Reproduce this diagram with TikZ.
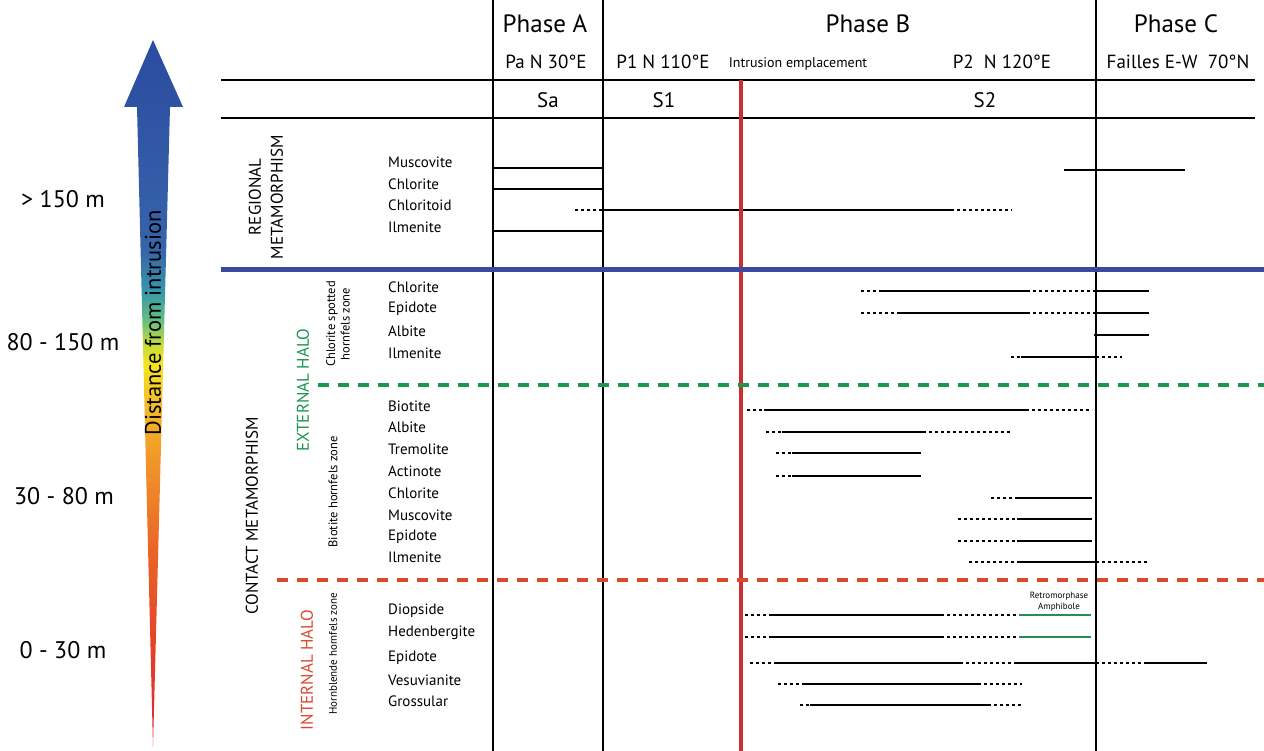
\documentclass[tikz,border=0pt]{standalone}
\usepackage{fontspec}
\setmainfont{PT Sans}
\usetikzlibrary{positioning}

\definecolor{halogreen}{RGB}{30,150,80}
\definecolor{halored}{RGB}{218,72,46}
\definecolor{intrred}{RGB}{204,45,45}
\definecolor{regblue}{RGB}{58,74,160}
\definecolor{retrogreen}{RGB}{40,140,90}

\pgfdeclareverticalshading{distshade}{100bp}{%
  rgb(0bp)=(0.855,0.149,0.188); rgb(25bp)=(0.855,0.149,0.188);
  rgb(31.9bp)=(0.894,0.255,0.165); rgb(38.9bp)=(0.918,0.392,0.157);
  rgb(45.3bp)=(0.941,0.588,0.157); rgb(49.5bp)=(0.961,0.745,0.157);
  rgb(52bp)=(0.961,0.894,0.118); rgb(53.4bp)=(0.784,0.863,0.216);
  rgb(55.2bp)=(0.392,0.745,0.51); rgb(57.3bp)=(0.216,0.588,0.667);
  rgb(60.1bp)=(0.216,0.392,0.667); rgb(75bp)=(0.169,0.294,0.627);
  rgb(100bp)=(0.169,0.294,0.627)}

\tikzset{
  frameline/.style={line width=2pt},
  mineral/.style={anchor=west, inner sep=0pt, font=\fontsize{15}{15}\selectfont},
  phasehead/.style={inner sep=0pt, font=\fontsize{25}{25}\selectfont},
  subhead/.style={inner sep=0pt, font=\fontsize{19}{19}\selectfont},
  fabric/.style={inner sep=0pt, font=\fontsize{21}{21}\selectfont},
  distlab/.style={inner sep=0pt, font=\fontsize{24}{24}\selectfont},
  bigzone/.style={rotate=90, align=center, inner sep=0pt, font=\fontsize{17}{22}\selectfont},
  smallzone/.style={rotate=90, align=center, inner sep=0pt, font=\fontsize{12.5}{14.5}\selectfont},
  solidbar/.style={line width=2.5pt},
  dotbar/.style={line width=2.5pt, dash pattern=on 3pt off 3pt},
  halo/.style={line width=4.5pt, dash pattern=on 11pt off 9pt}
}

\begin{document}
\begin{tikzpicture}[x=1pt, y=-1pt]
\useasboundingbox (0,0) rectangle (1264,751);

% distance arrow
\shade[shading=distshade] (153,40) -- (183,107) -- (170,107) -- (153,747)
  -- (137,107) -- (124,107) -- cycle;
\node[rotate=90, inner sep=0pt, font=\fontsize{22.5}{22.5}\selectfont] (distance) at (153,323) {Distance from intrusion};

\node[distlab] (d150) at (63,199) {> 150 m};
\node[distlab] (d80) at (63,342) {80 - 150 m};
\node[distlab] (d30) at (64,496) {30 - 80 m};
\node[distlab] (d0) at (63,650) {0 - 30 m};

% table frame
\draw[frameline] (221,80) -- (1255,80);
\draw[frameline] (221,118) -- (1255,118);
\foreach \x in {493,603,1096}
  \draw[frameline] (\x,0) -- (\x,751);

% headers
\node[phasehead] (phA) at (545,24) {Phase A};
\node[phasehead] (phB) at (868,24) {Phase B};
\node[phasehead] (phC) at (1176,24) {Phase C};
\node[subhead] (pa) at (546,62) {Pa N 30°E};
\node[subhead] (p1) at (663,62) {P1 N 110°E};
\node[inner sep=0pt, font=\fontsize{14}{14}\selectfont] (intr) at (798,64) {Intrusion emplacement};
\node[subhead] (p2) at (1002,62) {P2\ \ N 120°E};
\node[subhead] (fail) at (1178,62) {Failles E-W\ \ 70°N};
\node[fabric] (sa) at (548,100) {Sa};
\node[fabric] (s1) at (664,100) {S1};
\node[fabric] (s2) at (985,100) {S2};

% zones
\node[bigzone] (regional) at (266,197) {REGIONAL\\METAMORPHISM};
\node[bigzone] (contact) at (252,516) {CONTACT METAMORPHISM};
\node[bigzone, text=halogreen] (exthalo) at (303,390) {EXTERNAL HALO};
\node[bigzone, text=halored] (inthalo) at (307,670) {INTERNAL HALO};
\node[smallzone] (chlzone) at (338,324) {Chlorite spotted\\hornfels zone};
\node[smallzone] (biozone) at (333,492) {Biotite hornfels zone};
\node[smallzone, font=\fontsize{11}{13}\selectfont] (hbzone) at (333,654) {Hornblende hornfels zone};

% minerals
\foreach \y/\n/\name in {162/rmus/Muscovite, 184/rchl/Chlorite, 205/rctd/Chloritoid, 227/rilm/Ilmenite,
    287/cchl/Chlorite, 309/cep/Epidote, 331/cab/Albite, 353/cilm/Ilmenite,
    406/bbt/Biotite, 427/bab/Albite, 449/btr/Tremolite, 471/bact/Actinote,
    493/bchl/Chlorite, 515/bmus/Muscovite, 537/bep/Epidote, 557/bilm/Ilmenite,
    611/hdi/Diopside, 633/hhd/Hedenbergite, 658/hep/Epidote, 680/hves/Vesuvianite, 701/hgr/Grossular}
  \node[mineral] (\n) at (388,\y) {\name};

% phase A limits
\foreach \y in {168,189,231}
  \draw[frameline] (493,\y) -- (603,\y);

% solid ranges
\foreach \y/\a/\b in {170/1064/1185, 210/603/951,
    291/879/1027, 291/1096/1149, 313/897/1027, 313/1096/1149, 335/1094/1149, 357/1021/1096,
    410/764/1026, 432/782/923, 453/792/921, 476/792/921,
    498/1017/1092, 519/1017/1092, 541/1017/1092, 562/1017/1096,
    615/769/941, 637/769/941, 663/776/960, 663/1017/1096, 663/1147/1207,
    684/805/978, 705/810/988}
  \draw[solidbar] (\a,\y) -- (\b,\y);

% uncertain ranges
\foreach \y/\a/\b in {210/575/603, 210/951/1012,
    291/861/879, 291/1027/1096, 313/861/897, 313/1027/1096, 357/1011/1021, 357/1096/1122,
    410/747/764, 410/1026/1092, 432/766/782, 432/923/1011, 453/776/792, 476/776/792,
    498/991/1017, 519/958/1017, 541/958/1017, 562/969/1017, 562/1096/1147,
    615/745/769, 615/941/1019, 637/745/769, 637/941/1019,
    663/750/776, 663/960/1017, 663/1096/1147,
    684/778/805, 684/978/1022, 705/800/810, 705/988/1022}
  \draw[dotbar] (\a,\y) -- (\b,\y);

% retromorphose
\draw[retrogreen, line width=1.5pt] (1019,615) -- (1091,615);
\draw[retrogreen, line width=1.5pt] (1019,637) -- (1091,637);
\node[align=center, inner sep=0pt, font=\fontsize{9}{11}\selectfont] (retro) at (1059,602) {Retromorphase\\Amphibole};

% intrusion and halo limits
\draw[intrred, line width=4pt] (741,80) -- (741,751);
\draw[regblue, line width=5pt] (221,270) -- (1264,270);
\draw[halo, halogreen] (318,385) -- (1264,385);
\draw[halo, halored] (277,580) -- (1264,580);

\end{tikzpicture}
\end{document}
